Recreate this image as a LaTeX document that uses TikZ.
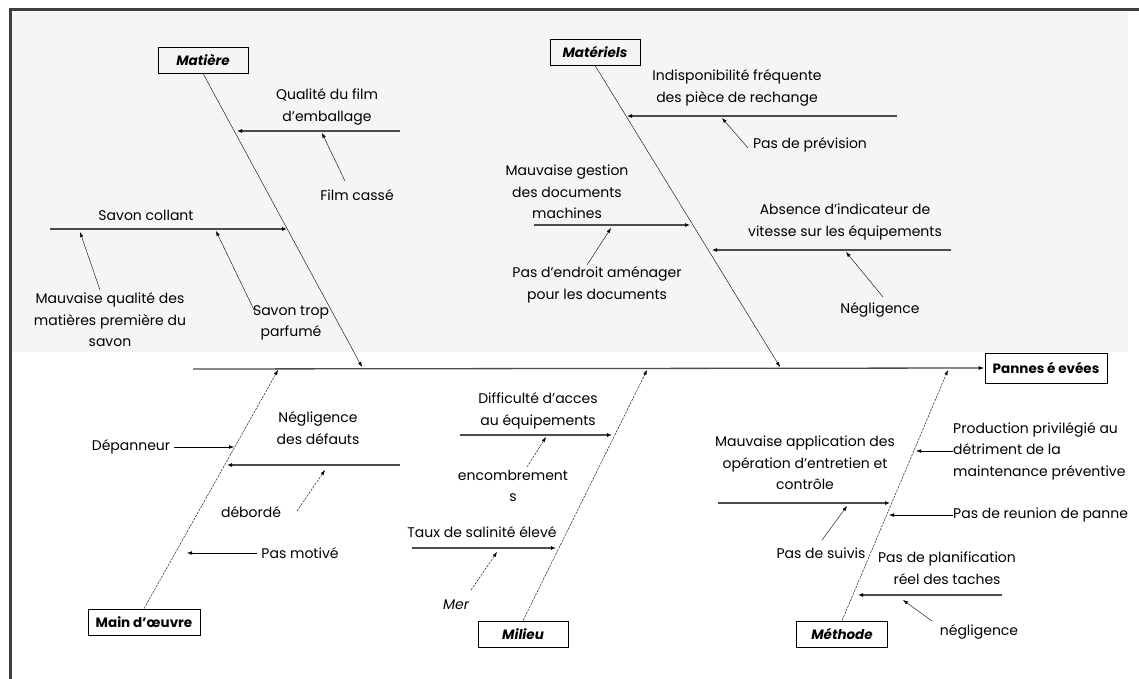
\documentclass[tikz,border=0pt]{standalone}
\usepackage{fontspec}
\setmainfont{Poppins}
\usetikzlibrary{arrows.meta}
\usetikzlibrary{calc,positioning}

\tikzset{
    cause/.style={draw, thick, minimum height=26pt, inner sep=2pt, font=\fontsize{13.5}{15}\selectfont\bfseries\itshape},
    txt/.style={align=center, inner sep=0pt, font=\fontsize{14}{21.5}\selectfont},
    bone/.style={thin, -{Latex[length=5pt,width=3.5pt]}},
    lowbone/.style={bone, dash pattern=on 2.5pt off 1pt},
    twig/.style={line width=1.3pt, gray!60!black, -{Latex[length=5pt,width=4pt,color=black]}},
    spine/.style={line width=1.3pt, gray!60!black, -{Latex[length=6pt,width=4pt,color=black]}}
}

\begin{document}
\begin{tikzpicture}[x=1pt,y=-1pt]
    \useasboundingbox (0,0) rectangle (1139,679);
    \fill[black!4] (12,12) rectangle (1128,352);
    \draw[line width=3pt, black!75] (10,679) -- (10,10) -- (1139,10);

    % causes
    \node[cause, minimum width=90pt] (matiere) at (203,60) {Matière};
    \node[cause, minimum width=90pt] (materiels) at (595,52) {Matériels};
    \node[cause, minimum width=112pt, font=\fontsize{13.5}{15}\selectfont\bfseries] (maindo) at (144,622) {Main d'œuvre};
    \node[cause, minimum width=90pt] (milieu) at (523,634) {Milieu};
    \node[cause, minimum width=91pt] (methode) at (842,634) {Méthode};
    \node[cause, minimum width=122pt, minimum height=30pt, font=\fontsize{13.5}{15}\selectfont\bfseries] (pannes) at (1046,368) {Pannes é evées};

    % spine and bones
    \coordinate (sp0) at (193,369);
    \coordinate (s1) at (362,367);
    \coordinate (s2) at (780,367);
    \coordinate (s3) at (278,370);
    \coordinate (s4) at (647,370);
    \coordinate (s5) at (948,370);
    \draw[spine] (sp0) -- (pannes.west);
    \draw[bone] (matiere.south) -- (s1);
    \draw[bone] (materiels.south) -- (s2);
    \draw[lowbone] (maindo.north) -- (s3);
    \draw[lowbone] (milieu.north) -- (s4);
    \draw[lowbone] (methode.north) -- (s5);

    % Matiere
    \node[txt] (qfilm) at (327,107) {Qualité du film\\d'emballage};
    \node[txt] (filmc) at (357,195) {Film cassé};
    \node[txt] (savc) at (146,215) {Savon collant};
    \node[txt] (mauvq) at (110,320) {Mauvaise qualité des\\matières première du\\savon};
    \node[txt] (savtp) at (291,323) {Savon trop\\parfumé};
    \coordinate (q0) at (400,131); \coordinate (q1) at (237,131);
    \coordinate (c0) at (50,229); \coordinate (c1) at (287,229);
    \draw[twig] (q0) -- (q1);
    \draw[twig] (c0) -- (c1);
    \coordinate (fc0) at (345,181); \coordinate (fc1) at (322,133);
    \coordinate (mq0) at (100,290); \coordinate (mq1) at (80,232);
    \coordinate (tp0) at (255,312); \coordinate (tp1) at (216,231);
    \draw[bone] (fc0) -- (fc1);
    \draw[bone] (mq0) -- (mq1);
    \draw[bone] (tp0) -- (tp1);

    % Materiels
    \node[txt] (indisp) at (737,88) {Indisponibilité fréquente\\des pièce de rechange};
    \node[txt] (pasprev) at (810,145) {Pas de prévision};
    \node[txt] (mauvg) at (567,192) {Mauvaise gestion\\des documents\\machines};
    \node[txt] (pasend) at (597,285) {Pas d'endroit aménager\\pour les documents};
    \node[txt] (absence) at (845,222) {Absence d'indicateur de\\vitesse sur les équipements};
    \node[txt] (negl) at (880,310) {Négligence};
    \coordinate (i0) at (897,116); \coordinate (i1) at (627,116);
    \coordinate (g0) at (534,225); \coordinate (g1) at (690,225);
    \coordinate (a0) at (951,250); \coordinate (a1) at (712,250);
    \draw[twig] (i0) -- (i1);
    \draw[twig] (g0) -- (g1);
    \draw[twig] (a0) -- (a1);
    \coordinate (pp0) at (748,148); \coordinate (pp1) at (722,118);
    \coordinate (pe0) at (587,265); \coordinate (pe1) at (611,228);
    \coordinate (ng0) at (883,297); \coordinate (ng1) at (846,252);
    \draw[bone] (pp0) -- (pp1);
    \draw[bone] (pe0) -- (pe1);
    \draw[bone] (ng0) -- (ng1);

    % Main d'oeuvre
    \node[txt] (negdef) at (318,428) {Négligence\\des défauts};
    \node[txt] (depan) at (131,447) {Dépanneur};
    \node[txt] (deborde) at (251,512) {débordé};
    \node[txt] (pasmot) at (300,553) {Pas motivé};
    \coordinate (d0) at (400,465); \coordinate (d1) at (227,465);
    \draw[twig] (d0) -- (d1);
    \coordinate (dp1) at (234,447);
    \coordinate (pm1) at (187,553);
    \draw[bone] (depan.east) ++(4,0) -- (dp1);
    \draw[bone] (pasmot.west) ++(-4,0) -- (pm1);
    \coordinate (db0) at (297,511); \coordinate (db1) at (325,470);
    \draw[lowbone] (db0) -- (db1);

    % Milieu
    \node[txt] (diffic) at (538,411) {Difficulté d'acces\\au équipements};
    \node[txt] (encomb) at (513,486) {encombrement\\s};
    \node[txt] (taux) at (482,532) {Taux de salinité élevé};
    \node[txt, font=\fontsize{14}{16}\selectfont\itshape] (mer) at (456,605) {Mer};
    \coordinate (e0) at (460,435); \coordinate (e1) at (612,435);
    \coordinate (t0) at (412,548); \coordinate (t1) at (556,548);
    \draw[twig] (e0) -- (e1);
    \draw[twig] (t0) -- (t1);
    \coordinate (en0) at (527,467); \coordinate (en1) at (546,437);
    \coordinate (me0) at (471,590); \coordinate (me1) at (497,552);
    \draw[lowbone] (en0) -- (en1);
    \draw[lowbone] (me0) -- (me1);

    % Methode
    \node[txt] (mauva) at (805,463) {Mauvaise application des\\opération d'entretien et\\contrôle};
    \node[txt] (passuiv) at (821,553) {Pas de suivis};
    \node[txt, align=left, anchor=west] (prod) at (953,451) {Production privilégié au\\détriment de la\\maintenance préventive};
    \node[txt, anchor=west] (pasreu) at (953,515) {Pas de reunion de panne};
    \node[txt] (pasplan) at (947,568) {Pas de planification\\réel des taches};
    \node[txt] (negl2) at (979,632) {négligence};
    \coordinate (m0) at (718,503); \coordinate (m1) at (890,503);
    \coordinate (p0) at (1002,595); \coordinate (p1) at (858,595);
    \draw[twig] (m0) -- (m1);
    \draw[twig] (p0) -- (p1);
    \coordinate (pr1) at (916,451);
    \coordinate (pr2) at (889,515);
    \draw[bone] (prod.west) -- (pr1);
    \draw[bone] (pasreu.west) -- (pr2);
    \coordinate (ps0) at (822,540); \coordinate (ps1) at (847,506);
    \coordinate (nb0) at (932,621); \coordinate (nb1) at (903,600);
    \draw[bone] (ps0) -- (ps1);
    \draw[bone] (nb0) -- (nb1);
\end{tikzpicture}
\end{document}
